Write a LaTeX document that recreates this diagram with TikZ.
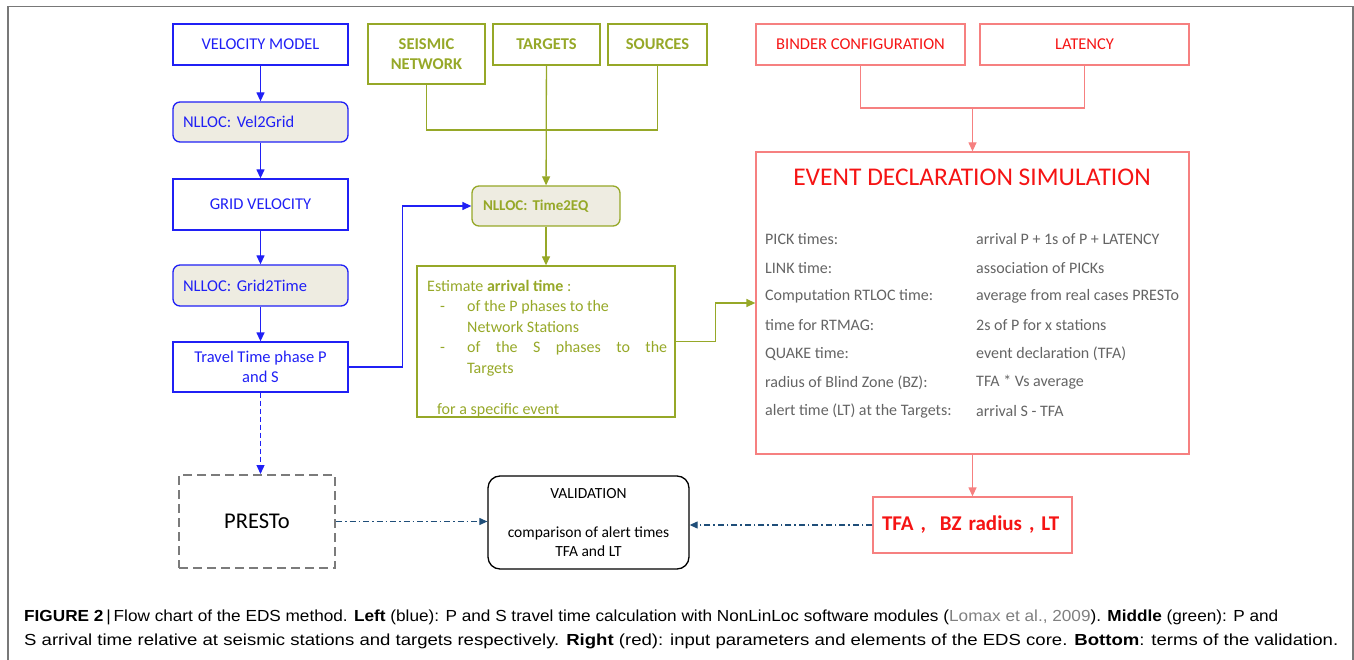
\documentclass[tikz,border=0pt]{standalone}
\usepackage{fontspec}
\setmainfont{Carlito}
\newfontfamily\capfont{Liberation Sans}
\usepackage{graphicx}
\usepackage{xcolor}
\usetikzlibrary{positioning, calc, arrows.meta}

\definecolor{vblue}{RGB}{32,32,245}
\definecolor{volive}{RGB}{150,168,40}
\definecolor{vred}{RGB}{245,20,20}
\definecolor{vpink}{RGB}{246,128,128}
\definecolor{vtan}{RGB}{238,236,225}
\definecolor{vgray}{RGB}{100,100,100}
\definecolor{vnavy}{RGB}{31,78,121}
\definecolor{vframe}{RGB}{120,120,120}

\begin{document}
\begin{tikzpicture}[x=1pt, y=-1pt, >={Triangle[length=9pt, width=8pt]},
    bluebox/.style={draw=vblue, line width=1.3pt, text=vblue, minimum width=175pt,
        align=center, font=\fontsize{16.5}{20}\selectfont},
    bluemod/.style={bluebox, fill=vtan, rounded corners=7pt, inner xsep=10pt,
        text width=155pt, align=left},
    greenbox/.style={draw=volive, line width=1.3pt, text=volive, align=center,
        font=\fontsize{16.5}{20}\selectfont\bfseries},
    redbox/.style={draw=vpink, line width=1.3pt, text=vred, align=center,
        font=\fontsize{16.5}{20}\selectfont},
    rowtext/.style={anchor=west, text=vgray, inner sep=0pt, font=\fontsize{16}{19}\selectfont},
    bline/.style={draw=vblue, line width=1.3pt},
    gline/.style={draw=volive, line width=1.3pt},
    rline/.style={draw=vpink, line width=1.3pt},
    vline/.style={draw=vnavy, line width=1.1pt, dash pattern=on 6pt off 3pt on 1.5pt off 3pt}]

    \useasboundingbox (0,0) rectangle (1354,660);

    % --- Frame ---
    \draw[vframe, line width=1.2pt] (8,660) -- (8,6.5) -- (1353,6.5) -- (1353,660);

    % --- Left column (blue) ---
    \node[bluebox, minimum height=41pt] (vm) at (260.5,44.5) {VELOCITY MODEL};
    \node[bluemod, minimum height=40pt] (v2g) at (260.5,122) {NLLOC: Vel2Grid};
    \node[bluebox, minimum height=51pt] (gv) at (260.5,204.5) {GRID VELOCITY};
    \node[bluemod, minimum height=41pt] (g2t) at (260.5,285.5) {NLLOC: Grid2Time};
    \node[bluebox, minimum height=50pt] (tt) at (260.5,367) {Travel Time phase P\\and S};

    \draw[bline, ->] (vm) -- (v2g);
    \draw[bline, ->] (v2g) -- (gv);
    \draw[bline, ->] (gv) -- (g2t);
    \draw[bline, ->] (g2t) -- (tt);

    % PRESTo box
    \node[draw=vgray!85, line width=2pt, dash pattern=on 9pt off 5pt, minimum width=156pt,
        minimum height=93pt, font=\fontsize{22.5}{26}\selectfont] (presto) at (257,521.5) {PRESTo};
    \draw[bline, ->, dash pattern=on 5pt off 3pt] (tt.south) -- (tt.south |- presto.north);

    % --- Middle column (green) ---
    \node[greenbox, minimum width=117pt, minimum height=60pt] (sn) at (426.5,54) {SEISMIC\\NETWORK};
    \node[greenbox, minimum width=107pt, minimum height=41pt] (tg) at (546.5,44.5) {TARGETS};
    \node[greenbox, minimum width=99pt, minimum height=41pt] (src) at (657.5,44.5) {SOURCES};
    \node[greenbox, fill=vtan, rounded corners=7pt, minimum height=40pt, inner xsep=11pt,
        text width=126pt, align=left, font=\fontsize{15}{18}\selectfont\bfseries] (t2eq) at (546,206) {NLLOC: Time2EQ};
    \node[draw=volive, line width=1.3pt, minimum width=258pt, minimum height=151pt] (est) at (546,341.5) {};
    \node[anchor=north west, inner sep=0pt, text=volive, align=left,
        font=\fontsize{16}{20.5}\selectfont] (esttxt) at (427,280) {%
        Estimate \textbf{arrival time} :\\
        \makebox[40pt][l]{\hspace*{13pt}-}of the P phases to the\\
        \hspace*{40pt}Network Stations\\
        \makebox[40pt][l]{\hspace*{13pt}-}\makebox[200pt][s]{of the S phases to the}\\
        \hspace*{40pt}Targets\\[20.5pt]
        \hspace*{10pt}for a specific event};

    \coordinate (gjoin) at (546,130);
    \draw[gline] (sn.south) |- (gjoin) -| (src.south);
    \draw[gline, ->] (tg) -- (t2eq);
    \draw[gline, ->] (t2eq) -- (est);
    \draw[bline, ->] (tt.east) -- ++(54,0) |- (t2eq.west);

    % --- Right column (red) ---
    \node[redbox, minimum width=209pt, minimum height=41pt] (bc) at (860.5,44.5) {BINDER CONFIGURATION};
    \node[redbox, minimum width=209pt, minimum height=41pt] (lat) at (1084.5,44.5) {LATENCY};
    \node[draw=vpink, line width=1.3pt, minimum width=433pt, minimum height=302pt] (eds) at (972.5,303) {};
    \node[text=vred, font=\fontsize{25.5}{30}\selectfont] (edstitle) at (972,177) {EVENT DECLARATION SIMULATION};

    \foreach \lab/\val [count=\i] in {PICK times:/arrival P + 1s of P + LATENCY,
        LINK time:/association of PICKs,
        Computation RTLOC time:/average from real cases PRESTo,
        time for RTMAG:/2s of P for x stations,
        QUAKE time:/event declaration (TFA),
        radius of Blind Zone (BZ):/TFA * Vs average,
        alert time (LT) at the Targets:/arrival S - TFA}{
        \node[rowtext] (lab\i) at (765,{210.3+28.67*\i}) {\lab};
        \node[rowtext] (val\i) at (976,{210.3+28.67*\i}) {\val};
    }

    \coordinate (rjoin) at (972.5,108);
    \draw[rline] (bc.south) |- (rjoin) -| (lat.south);
    \draw[rline, ->] (rjoin) -- (eds);
    \draw[gline, ->] (est.east) -- ++(40,0) |- (eds.west);

    \node[draw=vpink, line width=1.3pt, minimum height=56pt, inner xsep=9pt, text width=181pt,
        align=left, text=vred, font=\fontsize{21}{24}\selectfont\bfseries] (tfa) at (972.5,525) {TFA ,\ \ BZ radius , LT};
    \draw[rline, ->] (eds) -- (tfa);

    % --- Bottom (validation) ---
    \node[draw=black, line width=1.3pt, rounded corners=12pt, minimum width=201pt, minimum height=93pt,
        align=center, font=\fontsize{15.5}{19}\selectfont] (val) at (588.5,522.5)
        {VALIDATION\\[20pt]comparison of alert times\\TFA and LT};
    \draw[vline, ->, >={Triangle[length=8pt, width=7pt]}] (tfa.west) -- (tfa.west -| val.east);
    \draw[vline, ->, >={Triangle[length=8pt, width=7pt]}] (presto.east) -- (presto.east -| val.west);

    % --- Caption ---
    \node[anchor=west, inner sep=0pt, font=\capfont\fontsize{16}{19}\selectfont] (cap1) at (24,617)
        {\resizebox{1254pt}{\height}{\textbf{FIGURE 2}\,|\,Flow chart of the EDS method. \textbf{Left} (blue): P and S travel time calculation with NonLinLoc software modules ({\color{gray}Lomax et al., 2009}). \textbf{Middle} (green): P and}};
    \node[anchor=west, inner sep=0pt, font=\capfont\fontsize{16}{19}\selectfont] (cap2) at (24,641)
        {\resizebox{1314pt}{\height}{S arrival time relative at seismic stations and targets respectively. \textbf{Right} (red): input parameters and elements of the EDS core. \textbf{Bottom}: terms of the validation.}};

\end{tikzpicture}
\end{document}
